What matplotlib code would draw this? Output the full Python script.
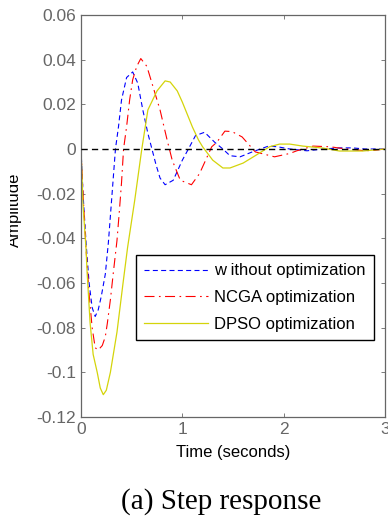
import matplotlib
matplotlib.use("Agg")
import matplotlib.pyplot as plt
from matplotlib.transforms import Bbox, TransformedBbox

plt.rcParams['font.family'] = ['Liberation Sans', 'DejaVu Sans']

# step response data
t_blue = [0, 0.02, 0.05, 0.08, 0.11, 0.14, 0.17, 0.20, 0.24, 0.27, 0.30, 0.34,
          0.37, 0.40, 0.45, 0.51, 0.56, 0.61, 0.66, 0.70, 0.74, 0.78, 0.83, 0.91,
          1.00, 1.06, 1.13, 1.22, 1.32, 1.40, 1.47, 1.57, 1.69, 1.85, 1.94, 2.06,
          2.23, 2.39, 2.55, 2.68, 2.80, 3.0]
y_blue = [0, -0.02, -0.042, -0.060, -0.071, -0.075, -0.072, -0.066, -0.056, -0.042,
          -0.024, 0.0, 0.010, 0.022, 0.032, 0.0345, 0.0295, 0.0175, 0.007, 0.0,
          -0.007, -0.013, -0.016, -0.014, -0.005, 0.0, 0.006, 0.0075, 0.003, 0.0,
          -0.003, -0.0035, -0.0013, 0.0013, 0.001, 0.0, -0.0008, 0.0, 0.0005,
          0.0005, 0.0, 0.0]

t_red = [0, 0.02, 0.05, 0.08, 0.11, 0.14, 0.17, 0.21, 0.24, 0.26, 0.29, 0.32, 0.355,
         0.38, 0.40, 0.42, 0.45, 0.48, 0.51, 0.55, 0.59, 0.65, 0.71, 0.78, 0.85,
         0.90, 0.98, 1.09, 1.17, 1.22, 1.29, 1.34, 1.42, 1.49, 1.59, 1.72, 1.91,
         2.06, 2.13, 2.29, 2.46, 2.55, 2.78, 2.87, 3.0]
y_red = [0, -0.02, -0.045, -0.065, -0.080, -0.089, -0.090, -0.088, -0.084, -0.078,
         -0.0675, -0.055, -0.041, -0.027, -0.015, 0.0, 0.010, 0.022, 0.031, 0.037,
         0.0405, 0.037, 0.028, 0.0175, 0.004, -0.005, -0.014, -0.016, -0.011,
         -0.006, 0.001, 0.003, 0.008, 0.0078, 0.0054, -0.0013, -0.0035, -0.002,
         -0.0008, 0.0013, 0.001, 0.0004, -0.0007, -0.0007, 0.0]

t_yel = [0, 0.02, 0.05, 0.06, 0.09, 0.12, 0.16, 0.19, 0.22, 0.25, 0.29, 0.355,
         0.415, 0.46, 0.53, 0.60, 0.66, 0.75, 0.83, 0.88, 0.95, 1.00, 1.10, 1.16,
         1.20, 1.30, 1.40, 1.47, 1.60, 1.73, 1.86, 1.96, 2.06, 2.19, 2.39, 2.55,
         2.78, 3.0]
y_yel = [0, -0.025, -0.045, -0.055, -0.078, -0.092, -0.100, -0.107, -0.110, -0.108,
         -0.100, -0.082, -0.060, -0.044, -0.023, 0.0, 0.0175, 0.026, 0.0305, 0.030,
         0.026, 0.021, 0.0098, 0.004, 0.001, -0.005, -0.0085, -0.0085, -0.0063,
         -0.0027, 0.001, 0.0022, 0.0022, 0.0013, 0.0004, -0.0009, -0.0009, 0.0]

labels = ['w ithout optimization', 'NCGA optimization', 'DPSO optimization']
xticks = [0, 1, 2, 3]
yticks = [-0.12, -0.1, -0.08, -0.06, -0.04, -0.02, 0, 0.02, 0.04, 0.06]
ytick_labels = ['-0.12', '-0.1', '-0.08', '-0.06', '-0.04', '-0.02', '0', '0.02', '0.04', '0.06']

GRAY = '#666666'

fig = plt.figure(figsize=(3.88, 5.19), dpi=100)
ax = fig.add_axes([81 / 388, 102 / 519, 304 / 388, 402 / 519])

ax.plot(t_blue, y_blue, color='#0000ff', linewidth=0.8, dashes=(4.5, 3), label=labels[0])
ax.plot(t_red, y_red, color='#ff0000', linewidth=0.8, dashes=(9, 4, 1.5, 4), label=labels[1])
ax.plot(t_yel, y_yel, color='#d4d40a', linewidth=0.9, label=labels[2])
ax.plot([0, 3], [0, 0], color='black', linewidth=1.0, dashes=(4.5, 3), zorder=5)

ax.set_xlim(0, 3)
ax.set_ylim(-0.12, 0.06)
ax.set_xticks(xticks)
ax.set_yticks(yticks)
ax.set_yticklabels(ytick_labels)
ax.tick_params(direction='in', top=True, right=True, length=3, width=0.6,
               color=GRAY, labelcolor=GRAY, labelsize=12.5)
for spine in ax.spines.values():
    spine.set_edgecolor(GRAY)
    spine.set_linewidth(0.9)

ax.set_xlabel('Time (seconds)', fontsize=12, labelpad=6)

# y label sits partly outside the cropped picture
ylab = fig.text(22 / 388, 1 - 210 / 519, 'Amplitude', rotation=90, ha='right',
                va='center', fontsize=12)
ylab.set_clip_box(TransformedBbox(Bbox([[10 / 388, 0], [1, 1]]), fig.transFigure))
ylab.set_clip_on(True)

leg = ax.legend(loc='upper left', bbox_to_anchor=(136 / 388, 1 - 255 / 519),
                bbox_transform=fig.transFigure, fontsize=12, frameon=True,
                fancybox=False, framealpha=1, edgecolor='black',
                handlelength=3.8, borderpad=0.5, labelspacing=0.7,
                handletextpad=0.4, borderaxespad=0)
leg.get_frame().set_linewidth(1.0)

fig.text(221 / 388, 1 - 502 / 519, '(a) Step response', ha='center', va='center',
         fontsize=21, family=['Liberation Serif', 'DejaVu Serif'])

fig.savefig('out.png', dpi=100)
